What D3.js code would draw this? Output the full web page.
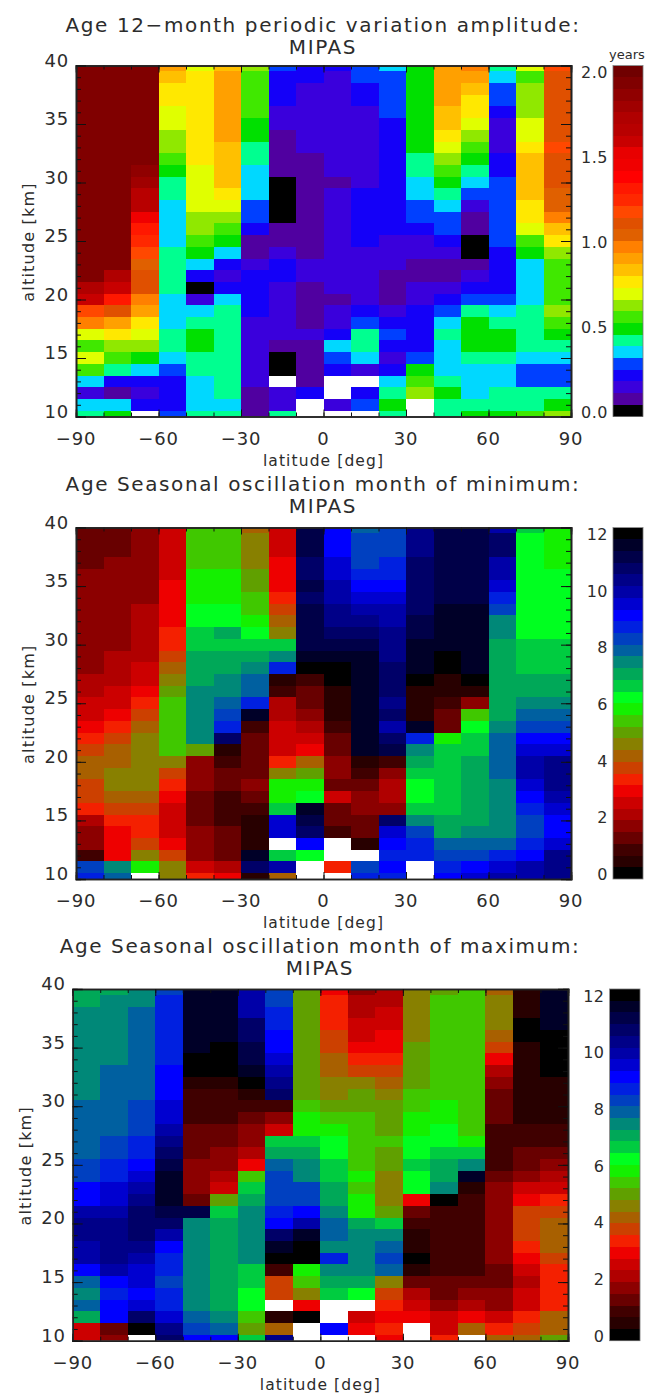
<!DOCTYPE html>
<html>
<head>
<meta charset="utf-8">
<script src="https://cdn.jsdelivr.net/npm/d3@7"></script>
<style>
  html, body { margin: 0; padding: 0; background: #fff; }
  svg { display: block; }
  text { font-family: "DejaVu Sans", sans-serif; fill: #2c2c2c; }
</style>
</head>
<body>
<script>
// latitude bin centres, altitudes run from the top row (40 km) down to 10 km
var latitudes = [-85, -75, -65, -55, -45, -35, -25, -15, -5, 5, 15, 25, 35, 45, 55, 65, 75, 85];
var altitudes = d3.range(40, 9, -1);
var latTicks = [-90, -60, -30, 0, 30, 60, 90];
var altTicks = [10, 15, 20, 25, 30, 35, 40];

// colour tables, lowest level first
var rainbowColors = ["#000000", "#5000a0", "#3a00dc", "#1400f8", "#0040ff", "#00d8ff", "#00ff90", "#00e000", "#40e800", "#90e800",
  "#e0ff00", "#ffe800", "#ffc000", "#ffa000", "#ff8000", "#e06000", "#e05000", "#ff4800", "#ff2800", "#ff1800",
  "#ff0000", "#f00000", "#e80000", "#c80000", "#b80000", "#b00000", "#a00000", "#900000", "#800000", "#700000"];
var cyclicColors = ["#000000", "#280000", "#400000", "#680000", "#8c0000", "#b00000", "#cc0000", "#ee0000", "#f42000", "#cc4000",
  "#a86000", "#888000", "#60a000", "#40c800", "#14f000", "#00ff20", "#00cc40", "#00a858", "#008878", "#0060a0",
  "#0040c0", "#0020e0", "#0000ff", "#0000d0", "#0000a8", "#000088", "#000068", "#000048", "#000028", "#000000"];

// 12-month amplitude [years], one line per latitude, 40 km to 10 km. null = no data
var amplitude = [
  [1.97,1.97,1.97,1.97,1.97,1.97,1.97,1.97,1.97,1.97,1.97,1.97,1.97,1.97,1.97,1.97,1.97,1.97,1.97,1.76,1.62,1.21,1.0,.72,.59,.72,.59,.38,.17,.38,.45],
  [1.97,1.97,1.97,1.97,1.97,1.97,1.97,1.97,1.97,1.97,1.97,1.97,1.97,1.97,1.97,1.97,1.97,1.97,1.76,1.62,1.34,1.14,.93,.79,.66,.59,.45,.24,.10,.38,.52],
  [1.97,1.97,1.97,1.97,1.97,1.97,1.97,1.97,1.97,1.90,1.83,1.69,1.69,1.48,1.34,1.28,1.21,1.07,1.14,1.14,1.0,.93,.79,.72,.66,.52,.38,.24,.17,.24,null],
  [.93,.86,.79,.79,.72,.72,.66,.66,.59,.52,.45,.45,.38,.38,.38,.38,.45,.45,.45,.45,.38,.38,.38,.45,.45,.38,.31,.24,.24,.24,.31],
  [.72,.79,.79,.79,.79,.79,.79,.79,.79,.72,.72,.72,.72,.66,.66,.59,.52,.38,.24,.03,.17,.38,.45,.52,.52,.45,.45,.38,.38,.38,.45],
  [.86,.93,.93,.93,.93,.93,.93,.86,.86,.86,.86,.79,.72,.66,.59,.52,.38,.24,.17,.24,.38,.45,.45,.45,.45,.45,.45,.45,.45,.38,.45],
  [.66,.59,.59,.59,.59,.52,.52,.45,.45,.38,.38,.38,.31,.31,.24,.10,.10,.17,.24,.24,.24,.24,.17,.17,.17,.17,.17,.17,.10,.10,.10],
  [.31,.24,.24,.24,.17,.17,.10,.10,.10,.10,.03,.03,.03,.03,.10,.10,.17,.24,.24,.17,.17,.17,.17,.17,.10,.03,.03,null,.17,.17,.45],
  [.24,.24,.17,.17,.17,.17,.17,.17,.10,.10,.10,.10,.10,.10,.10,.10,.10,.17,.17,.10,.10,.10,.10,.17,.10,.10,.10,.10,.24,null,null],
  [.24,.17,.17,.17,.17,.17,.17,.17,.17,.17,.10,.17,.17,.17,.17,.17,.17,.17,.17,.17,.10,.17,.17,.24,.38,.31,.24,null,null,.17,null],
  [.31,.31,.24,.24,.17,.17,.17,.17,.17,.17,.17,.24,.24,.24,.24,.24,.17,.17,.17,.17,.17,.24,.31,.45,.45,.38,.17,null,.24,.31,null],
  [.38,.31,.31,.31,.31,.24,.24,.24,.24,.24,.24,.24,.24,.24,.24,.17,.17,.17,.10,.10,.10,.17,.24,.31,.24,.17,.24,.38,.45,.52,.45],
  [.52,.52,.52,.52,.52,.52,.52,.52,.45,.45,.38,.38,.31,.31,.24,.17,.17,.10,.10,.17,.17,.24,.24,.24,.24,.31,.52,.59,.66,null,null],
  [.93,.93,.93,.93,.86,.86,.79,.72,.66,.59,.52,.45,.38,.31,.31,.24,.17,.10,.10,.17,.24,.31,.38,.45,.38,.38,.38,.45,.52,.45,.45],
  [1.0,.93,.86,.79,.79,.72,.66,.59,.52,.45,.38,.31,.17,.10,.10,.03,.03,.10,.17,.24,.31,.45,.52,.52,.52,.45,.38,.38,.38,.45,.52],
  [.45,.38,.31,.31,.24,.17,.17,.17,.24,.24,.31,.31,.31,.31,.31,.31,.24,.24,.24,.24,.31,.38,.45,.52,.52,.45,.38,.38,.45,.45,.52],
  [.72,.59,.66,.66,.66,.72,.72,.79,.86,.86,.86,.86,.79,.79,.72,.59,.52,.38,.38,.38,.38,.45,.45,.45,.45,.38,.31,.31,.45,.45,.59],
  [1.21,1.14,1.14,1.14,1.14,1.14,1.14,1.21,1.14,1.14,1.14,1.07,1.07,1.0,.86,.79,.66,.59,.59,.59,.59,.66,.59,.52,.45,.38,.31,.31,.45,.52,.66]
];

// seasonal oscillation, month of minimum
var monthMin = [
  [1.4,1.4,1.4,1.4,1.9,1.9,1.9,1.9,1.9,1.9,1.9,1.9,1.9,2.3,2.3,2.7,2.7,3.1,3.5,3.9,4.3,4.3,3.9,3.9,3.5,2.3,1.9,1.9,1.0,8.5,8.9],
  [1.4,1.4,1.4,1.9,1.9,1.9,1.9,1.9,1.9,1.9,1.9,2.3,2.3,2.3,2.7,2.7,3.1,3.5,3.9,4.3,4.3,4.8,4.8,4.3,3.9,3.5,3.1,3.1,3.1,7.7,8.1],
  [1.9,1.9,1.9,1.9,1.9,1.9,1.9,2.3,2.3,2.3,2.3,2.3,2.7,2.7,3.1,3.5,3.9,4.3,4.8,4.8,4.8,4.8,4.8,4.3,3.9,3.5,3.5,3.9,4.8,6.0,null],
  [2.7,2.7,2.7,2.7,2.7,3.1,3.1,3.1,3.1,3.5,3.5,3.9,4.3,4.8,5.2,5.6,5.6,5.6,5.6,5.6,4.8,3.9,3.5,3.1,2.7,2.7,2.7,3.1,3.9,4.8,4.8],
  [5.6,5.6,5.6,5.6,6.0,6.0,6.0,6.4,6.4,6.8,6.8,7.2,7.2,7.2,7.7,7.7,7.7,7.7,7.7,5.2,1.9,1.9,1.9,1.4,1.4,1.4,1.9,1.9,1.9,2.7,3.5],
  [5.6,5.6,5.6,5.6,6.0,6.0,6.0,6.4,6.4,7.2,6.8,7.2,7.2,7.7,7.7,8.1,8.5,8.9,11,.6,1.0,1.4,1.4,1.0,1.0,1.0,1.4,1.4,1.4,2.3,3.1],
  [4.3,4.8,4.8,4.8,5.2,5.2,5.6,5.6,6.0,6.4,6.8,7.2,7.7,8.1,8.1,8.9,11.8,1.0,1.4,1.4,1.4,1.4,1.9,1.4,1.0,.6,.6,.6,11.8,11,.6],
  [2.7,2.7,2.7,3.1,3.1,3.1,3.5,3.9,4.3,4.8,6.8,7.7,8.9,.6,1.0,2.3,2.3,2.7,2.7,2.7,3.5,4.8,6.0,6.0,6.8,9.7,9.7,null,6.8,10.2,4.3],
  [11.4,11.4,11.4,11,11,11.4,11,11.4,11.4,11.4,11.4,11.8,.2,1.0,1.4,1.4,1.9,2.3,2.7,3.1,4.3,5.2,6.0,6.4,11.8,11.4,11,9.3,6.4,null,null],
  [9.3,9.3,9.3,9.7,9.7,10.2,10.2,10.6,10.6,11,11.4,11.8,.2,.2,.6,.6,.6,1.0,1.4,1.4,1.9,1.9,1.4,2.7,1.4,1.4,1.0,null,null,3.5,null],
  [8.1,8.5,8.5,8.5,8.9,9.3,9.7,10.2,10.6,11,11.4,11.8,11.8,11.8,11.8,11.8,11.8,11.8,11.8,11.8,.6,1.0,1.4,1.9,1.9,1.4,1.4,.6,null,8.5,8.9,null],
  [8.5,8.5,8.5,8.9,8.9,9.3,9.7,10.2,10.2,10.6,10.6,10.6,11,11,11,10.6,11,10.2,11,11.4,1.0,1.9,2.3,2.3,1.9,11,9.7,9.3,8.9,9.3,8.9],
  [10.6,10.6,10.6,11,11,11,11,11,11.4,11.4,11.8,11.8,11.8,.2,.6,.6,.6,11.8,8.9,7.7,7.2,6.8,6.4,6.4,6.8,7.7,8.5,8.9,8.9,null,null],
  [11.4,11.4,11.4,11.4,11.4,11.4,11.4,11.8,11.8,11.8,11.8,.2,.2,.6,.6,1.0,1.4,1.4,6.0,6.8,6.8,6.8,6.8,6.8,6.8,7.2,7.2,8.1,8.5,8.9,9.3],
  [11.4,11.4,11.4,11.4,11.4,11.4,11.4,11.8,11.8,11.8,11.8,11.8,11.8,.2,.6,1.9,5.6,6.4,6.8,6.8,7.2,7.2,7.2,7.2,7.2,7.2,7.7,8.1,8.5,9.3,9.7],
  [10.2,11,11,10.2,10.2,9.7,8.9,8.5,7.7,7.7,7.2,7.2,7.2,7.2,7.2,7.2,7.2,7.7,8.1,8.1,8.1,8.1,7.7,7.7,7.7,7.7,7.7,8.1,8.9,9.7,10.2],
  [6.8,6.4,6.4,6.4,6.4,6.4,6.4,6.4,6.4,6.4,6.8,6.8,6.8,7.2,7.2,7.7,8.1,8.5,9.3,9.7,10.2,10.2,9.7,9.3,8.9,8.5,8.5,8.9,9.3,10.2,10.2],
  [6.0,6.0,6.0,6.0,6.4,6.4,6.4,6.4,6.4,6.4,6.8,6.8,6.8,7.2,7.2,7.7,8.1,8.5,9.3,9.7,10.6,10.6,10.6,10.2,9.7,9.3,9.3,9.7,10.6,10.6,10.6]
];

// seasonal oscillation, month of maximum
var monthMax = [
  [7.2,7.2,7.7,7.7,7.7,7.7,7.7,7.7,7.7,7.7,8.1,8.1,8.1,8.1,8.1,8.5,8.5,9.3,9.3,10.2,10.6,10.6,10.2,10.2,9.3,8.1,7.7,8.1,7.2,2.7,2.7],
  [7.2,7.7,7.7,7.7,7.7,7.7,7.7,8.1,8.1,8.1,8.1,8.1,8.1,8.5,8.5,8.9,8.9,9.7,9.7,10.2,10.6,10.6,10.6,10.6,10.2,9.3,8.9,9.3,9.3,1.4,1.9],
  [7.7,7.7,8.1,8.1,8.1,8.1,8.1,8.1,8.1,8.1,8.5,8.5,8.5,8.9,8.9,9.3,9.7,10.2,10.6,11,11,11,10.6,10.2,9.7,9.7,9.3,9.7,11,.2,null],
  [8.5,8.9,8.9,8.9,8.9,8.9,8.9,9.3,9.3,9.3,9.7,9.7,10.2,10.6,11,11.4,11.8,11.8,11.8,11.4,11,10.2,9.3,8.9,8.9,8.5,8.9,8.9,9.7,10.6,11],
  [11.8,11.8,11.8,11.8,11.8,11.8,.2,.2,.6,1.0,1.0,1.0,1.4,1.4,1.4,1.9,1.9,1.9,1.4,11.4,7.7,7.7,7.7,7.7,7.7,7.7,7.7,7.7,8.1,8.5,9.3],
  [11.8,11.8,11.8,11.8,11.8,.2,.2,.2,.6,1.0,1.0,1.0,1.4,1.4,1.9,1.9,2.3,2.7,5.2,6.8,7.2,7.2,7.2,7.2,7.2,7.2,7.2,7.2,7.7,8.1,9.3],
  [10.2,10.2,10.2,11,11,11.4,11.4,11.8,.2,.6,1.0,1.4,1.9,1.9,2.3,3.1,5.6,6.8,7.2,7.7,7.7,7.7,7.7,7.7,6.8,6.8,6.4,6.4,5.6,5.2,6.8],
  [8.5,8.5,8.9,8.9,9.3,9.3,9.7,10.2,10.6,11,1.0,1.9,2.7,6.8,7.2,8.1,8.5,8.5,8.5,8.9,9.3,11,11.8,.2,1.0,3.9,3.9,null,.6,4.3,10.6],
  [5.2,5.2,5.2,5.2,5.2,5.2,5.2,5.2,5.2,5.2,5.6,6.0,6.0,6.8,7.2,7.7,7.7,8.5,8.5,9.3,10.2,11.8,.2,.2,6.0,5.6,4.8,3.1,.2,null,null],
  [3.1,3.5,3.5,3.5,3.9,3.9,4.3,4.3,4.8,4.8,5.2,5.6,6.0,6.4,6.4,6.8,6.8,7.2,7.2,7.7,8.1,8.1,7.7,8.9,7.7,7.2,6.8,null,null,9.3,null],
  [1.9,2.3,2.3,2.7,2.7,3.1,3.5,3.9,4.8,5.2,5.2,5.6,5.6,5.6,5.6,5.6,6.0,5.6,6.0,6.0,7.2,7.7,7.7,7.7,7.7,7.2,6.4,null,2.7,3.1,null],
  [2.3,2.3,2.7,2.7,3.1,3.1,3.5,3.9,4.3,4.8,5.2,5.2,5.2,5.6,5.2,5.2,4.8,4.8,4.8,5.2,6.8,7.7,8.1,8.5,8.1,4.8,3.9,3.5,3.1,3.5,3.1],
  [4.8,4.8,4.8,4.8,4.8,5.2,5.2,5.2,5.2,5.6,5.6,6.0,6.0,6.4,6.4,6.8,6.4,6.4,3.1,1.4,1.0,.6,.6,.2,.6,1.4,2.3,2.7,3.1,null,null],
  [5.2,5.6,5.6,5.6,5.6,5.6,5.6,5.6,5.6,5.6,6.0,6.0,6.4,6.4,6.8,7.2,7.2,7.7,.2,1.0,1.0,1.0,1.0,1.0,1.0,1.4,1.4,1.9,2.7,2.7,3.5],
  [5.6,5.6,5.6,5.6,5.6,5.6,5.6,5.6,5.6,5.6,5.6,5.6,5.6,6.0,6.8,7.7,11.8,.6,1.0,1.0,1.0,1.0,1.0,1.0,1.0,1.4,1.9,2.3,3.1,4.3],
  [4.3,4.8,4.8,4.8,4.3,3.9,3.1,2.3,1.9,1.4,1.4,1.4,1.0,1.0,1.0,1.0,1.4,1.9,1.9,1.9,1.9,1.9,1.9,1.9,1.4,1.4,1.9,1.9,2.7,3.5,4.3],
  [.6,.6,.6,.2,.2,.6,.6,.6,.6,.6,.6,.6,1.0,1.0,1.4,1.4,1.9,2.7,3.1,3.9,3.9,3.9,3.5,3.1,2.7,2.3,2.7,2.7,3.5,3.9,4.3],
  [11.8,11.8,11.8,11.8,.2,.2,.2,.2,.6,.6,.6,.6,1.0,1.0,1.4,1.9,2.3,2.7,3.5,3.9,4.3,4.3,4.3,3.9,3.5,3.5,3.5,3.5,4.3,4.3,5.2]
];

var amplitudeTicks = [0, 0.5, 1, 1.5, 2];
var monthTicks = [0, 2, 4, 6, 8, 10, 12];

var svg = d3.select("body").append("svg").attr("width", 648).attr("height", 1393);

function drawPanel(p) {
  var x = d3.scaleLinear().domain([-90, 90]).range([p.left, p.right]);
  var y = d3.scaleLinear().domain([10, 40]).range([p.bottom, p.top]);
  var colour = d3.scaleQuantize().domain([0, p.barMax]).range(p.colors);

  svg.append("clipPath").attr("id", p.id + "-clip").append("rect")
      .attr("x", p.left).attr("y", p.top)
      .attr("width", p.right - p.left).attr("height", p.bottom - p.top);

  var cells = svg.append("g").attr("clip-path", "url(#" + p.id + "-clip)").attr("shape-rendering", "crispEdges");
  p.values.forEach(function(column, i) {
    column.forEach(function(v, j) {
      if (v === null) return;
      var lat = latitudes[i], alt = altitudes[j];
      cells.append("rect")
          .attr("x", x(lat - 5))
          .attr("y", y(alt + 0.5))
          .attr("width", x(lat + 5) - x(lat - 5))
          .attr("height", y(alt - 0.5) - y(alt + 0.5))
          .attr("fill", colour(v));
    });
  });

  // ticks point inwards on all four sides, minor ones first
  var minorLat = d3.range(-90, 91, 10), minorAlt = d3.range(10, 41, 1);
  function box(axis, scale, vals, len, tx, ty) {
    var g = svg.append("g").attr("class", "frame").attr("transform", "translate(" + tx + "," + ty + ")")
        .call(axis(scale).tickValues(vals).tickSize(len).tickFormat(""));
    return g;
  }
  box(d3.axisBottom, x, minorLat, -4, 0, p.bottom);
  box(d3.axisTop, x, minorLat, -4, 0, p.top);
  box(d3.axisLeft, y, minorAlt, -5, p.left, 0);
  box(d3.axisRight, y, minorAlt, -5, p.right, 0);
  box(d3.axisBottom, x, latTicks, -7, 0, p.bottom);
  box(d3.axisTop, x, latTicks, -7, 0, p.top);
  box(d3.axisLeft, y, altTicks, -10, p.left, 0);
  box(d3.axisRight, y, altTicks, -10, p.right, 0);
  svg.selectAll(".frame path").attr("stroke", "#222").attr("stroke-width", 1.6);
  svg.selectAll(".frame line").attr("stroke", "#111").attr("stroke-width", 1);

  // tick labels
  svg.selectAll(null).data(latTicks).enter().append("text")
      .attr("x", function(d) { return x(d); })
      .attr("y", p.bottom + 28)
      .attr("text-anchor", "middle")
      .attr("font-size", 18).attr("letter-spacing", 0.8)
      .text(function(d) { return d < 0 ? "\u2212" + (-d) : d; });
  svg.selectAll(null).data(altTicks).enter().append("text")
      .attr("x", p.left - 7)
      .attr("y", function(d) { return y(d) + 1; })
      .attr("text-anchor", "end")
      .attr("font-size", 18).attr("letter-spacing", 0.8)
      .text(function(d) { return d; });

  // axis titles
  svg.append("text")
      .attr("x", (p.left + p.right) / 2).attr("y", p.bottom + 49)
      .attr("text-anchor", "middle").attr("font-size", 15.5).attr("letter-spacing", 1.1)
      .text("latitude [deg]");
  svg.append("text")
      .attr("transform", "translate(" + (p.left - 42) + "," + ((p.top + p.bottom) / 2 + 1) + ") rotate(-90)")
      .attr("text-anchor", "middle").attr("font-size", 16).attr("letter-spacing", 1.2)
      .text("altitude [km]");

  // two line title
  svg.selectAll(null).data(p.title).enter().append("text")
      .attr("x", p.titleX)
      .attr("y", function(d, i) { return p.titleY + i * 22; })
      .attr("text-anchor", "middle").attr("font-size", 20).attr("letter-spacing", 1.6)
      .text(function(d) { return d; });

  // colour bar
  var bar = d3.scaleLinear().domain([0, p.barMax]).range([p.bottom, p.top]);
  var step = p.barMax / p.colors.length;
  var swatches = svg.append("g").attr("shape-rendering", "crispEdges");
  swatches.selectAll("rect").data(p.colors).enter().append("rect")
      .attr("x", p.barLeft)
      .attr("y", function(d, i) { return bar((i + 1) * step); })
      .attr("width", p.barWidth)
      .attr("height", function(d, i) { return bar(i * step) - bar((i + 1) * step); })
      .attr("fill", function(d) { return d; });
  svg.append("rect")
      .attr("x", p.barLeft).attr("y", p.top)
      .attr("width", p.barWidth).attr("height", p.bottom - p.top)
      .attr("fill", "none").attr("stroke", "#777").attr("stroke-width", 0.8);
  svg.selectAll(null).data(p.barTicks).enter().append("text")
      .attr("x", p.barLeft - 5)
      .attr("y", function(d) { return bar(d) + 1; })
      .attr("text-anchor", "end")
      .attr("font-size", 16).attr("letter-spacing", 0.5)
      .text(p.barFormat);
  if (p.barUnit) {
    svg.append("text")
        .attr("x", p.barLeft + p.barWidth / 2 - 1).attr("y", p.top - 7)
        .attr("text-anchor", "middle").attr("font-size", 13)
        .text(p.barUnit);
  }
}

drawPanel({
  id: "amp", values: amplitude, colors: rainbowColors,
  left: 76, right: 571, top: 65.5, bottom: 416.5,
  title: ["Age 12\u2212month periodic variation amplitude:", "MIPAS"], titleX: 323, titleY: 32,
  barLeft: 613, barWidth: 30, barMax: 2.069, barTicks: amplitudeTicks,
  barFormat: d3.format(".1f"), barUnit: "years"
});
drawPanel({
  id: "min", values: monthMin, colors: cyclicColors,
  left: 76, right: 571, top: 527.5, bottom: 879,
  title: ["Age Seasonal oscillation month of minimum:", "MIPAS"], titleX: 323, titleY: 491,
  barLeft: 613, barWidth: 30, barMax: 12.41, barTicks: monthTicks,
  barFormat: d3.format("d")
});
drawPanel({
  id: "max", values: monthMax, colors: cyclicColors,
  left: 72.7, right: 568, top: 989, bottom: 1340.7,
  title: ["Age Seasonal oscillation month of maximum:", "MIPAS"], titleX: 320, titleY: 953,
  barLeft: 609.5, barWidth: 30.5, barMax: 12.41, barTicks: monthTicks,
  barFormat: d3.format("d")
});
</script>
</body>
</html>
